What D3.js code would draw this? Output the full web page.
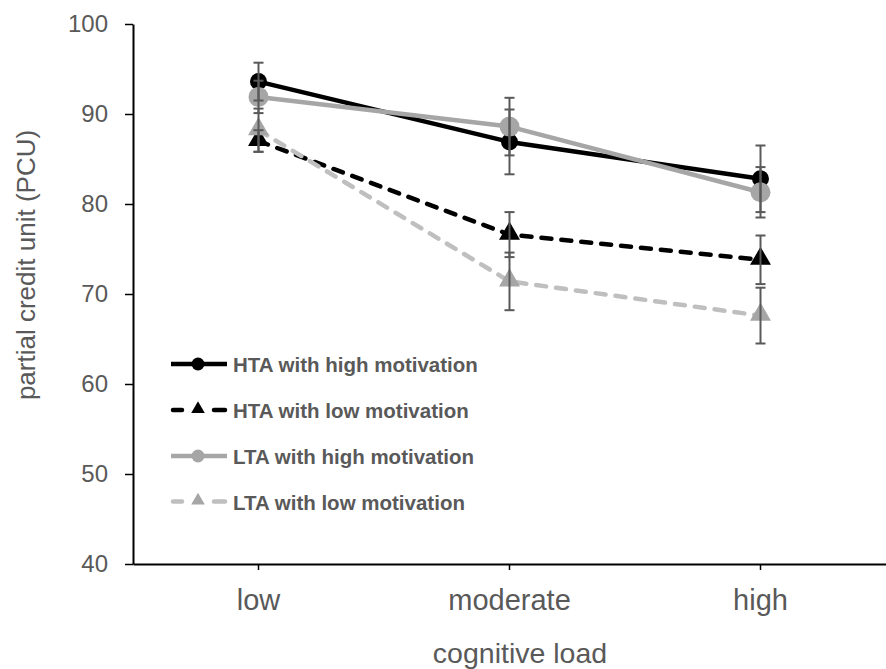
<!DOCTYPE html>
<html>
<head>
<meta charset="utf-8">
<script src="https://cdn.jsdelivr.net/npm/d3@7"></script>
<style>
  body { margin: 0; background: #fff; }
  text { font-family: "Liberation Sans", Arial, sans-serif; }
</style>
</head>
<body>
<script>
// chart data
var categories = ["low", "moderate", "high"];
var seriesNames = ["HTA with high motivation", "HTA with low motivation",
                   "LTA with high motivation", "LTA with low motivation"];
var htaHigh = [93.6, 86.9, 82.8];
var htaLow = [87.0, 76.6, 73.8];
var ltaHigh = [91.9, 88.6, 81.3];
var ltaLow = [88.2, 71.4, 67.6];
// standard errors
var htaHighErr = [2.1, 3.6, 3.7];
var htaLowErr = [1.2, 2.5, 2.7];
var ltaHighErr = [1.8, 3.2, 2.8];
var ltaLowErr = [2.4, 3.2, 3.1];
var yTicks = [40, 50, 60, 70, 80, 90, 100];

var w = 886, h = 669;
var margin = { left: 133, right: 0, top: 24, bottom: 105 };

var series = [
  { name: seriesNames[0], values: htaHigh, err: htaHighErr, color: "#000", markerColor: "#000", dash: null, shape: "circle", r: 8.5 },
  { name: seriesNames[1], values: htaLow, err: htaLowErr, color: "#000", markerColor: "#000", dash: "10,10", shape: "triangle", r: 10 },
  { name: seriesNames[2], values: ltaHigh, err: ltaHighErr, color: "#a6a6a6", markerColor: "#a6a6a6", dash: null, shape: "circle", r: 10 },
  { name: seriesNames[3], values: ltaLow, err: ltaLowErr, color: "#bfbfbf", markerColor: "#a6a6a6", dash: "10,10", shape: "triangle", r: 10 }
];

var svg = d3.select("body").append("svg")
  .attr("width", w)
  .attr("height", h);

var x = d3.scaleBand()
  .domain(categories)
  .range([margin.left, w - margin.right]);

var y = d3.scaleLinear()
  .domain([40, 100])
  .range([h - margin.bottom, margin.top]);

function cx(i) { return x(categories[i]) + x.bandwidth() / 2; }

// axes
var xAxis = svg.append("g")
  .attr("transform", "translate(0," + y(40) + ")")
  .call(d3.axisBottom(x).tickSize(6).tickSizeOuter(0));
xAxis.select(".domain").attr("stroke", "#000").attr("stroke-width", 2);
xAxis.selectAll(".tick line").attr("stroke", "#000").attr("stroke-width", 1.5);
xAxis.selectAll(".tick text")
  .attr("font-size", 29)
  .attr("fill", "#595959")
  .attr("y", 46)
  .attr("dy", null);

var yAxis = svg.append("g")
  .attr("transform", "translate(" + margin.left + ",0)")
  .call(d3.axisLeft(y).tickValues(yTicks).tickSize(8).tickPadding(17).tickSizeOuter(0));
yAxis.select(".domain").attr("stroke", "#000").attr("stroke-width", 2);
yAxis.selectAll(".tick line").attr("stroke", "#000").attr("stroke-width", 1.5);
yAxis.selectAll(".tick text").attr("font-size", 24).attr("fill", "#595959");

// axis titles
svg.append("text")
  .attr("x", 520)
  .attr("y", 663)
  .attr("text-anchor", "middle")
  .attr("font-size", 28.5)
  .attr("fill", "#595959")
  .text("cognitive load");

svg.append("text")
  .attr("transform", "translate(35,265) rotate(-90)")
  .attr("text-anchor", "middle")
  .attr("font-size", 26)
  .attr("fill", "#595959")
  .text("partial credit unit (PCU)");

var line = d3.line()
  .x(function (d, i) { return cx(i); })
  .y(function (d) { return y(d); });

var triangle = d3.symbol().type(d3.symbolTriangle);

function drawMarker(g, s, px, py, size) {
  if (s.shape === "circle") {
    g.append("circle")
      .attr("cx", px).attr("cy", py).attr("r", size)
      .attr("fill", s.markerColor);
  } else {
    g.append("path")
      .attr("d", triangle.size(size * size * 1.9)())
      .attr("transform", "translate(" + px + "," + (py - 1) + ")")
      .attr("fill", s.markerColor);
  }
}

var plot = svg.append("g");
series.forEach(function (s) {
  plot.append("path")
    .datum(s.values)
    .attr("d", line)
    .attr("fill", "none")
    .attr("stroke", s.color)
    .attr("stroke-width", 4.5)
    .attr("stroke-dasharray", s.dash)
    .attr("stroke-linejoin", "round")
    .attr("stroke-linecap", s.dash ? "round" : "butt");
  s.values.forEach(function (v, i) {
    drawMarker(plot, s, cx(i), y(v), s.r);
  });
});

// error bars
var errG = svg.append("g")
  .attr("stroke", "#595959")
  .attr("stroke-width", 2);
series.forEach(function (s) {
  s.values.forEach(function (v, i) {
    var px = cx(i), top = y(v + s.err[i]), bot = y(v - s.err[i]);
    errG.append("line").attr("x1", px).attr("x2", px).attr("y1", top).attr("y2", bot);
    errG.append("line").attr("x1", px - 5).attr("x2", px + 5).attr("y1", top).attr("y2", top);
    errG.append("line").attr("x1", px - 5).attr("x2", px + 5).attr("y1", bot).attr("y2", bot);
  });
});

// legend
var legendY = [364, 410, 456, 501.5];
var legend = svg.append("g");
series.forEach(function (s, i) {
  var ly = legendY[i];
  var segs = s.dash ? [[171, 184], [212, 227]] : [[171, 227]];
  segs.forEach(function (sg) {
    legend.append("line")
      .attr("x1", sg[0] + (s.dash ? 2 : 0)).attr("x2", sg[1] - (s.dash ? 2 : 0))
      .attr("y1", ly).attr("y2", ly)
      .attr("stroke", s.color)
      .attr("stroke-width", 4.5)
      .attr("stroke-linecap", s.dash ? "round" : "butt");
  });
  drawMarker(legend, s, 198, ly, 6.5);
  legend.append("text")
    .attr("x", 233)
    .attr("y", ly + 8)
    .attr("font-size", 20.5)
    .attr("font-weight", "bold")
    .attr("fill", "#595959")
    .text(s.name);
});
</script>
</body>
</html>
